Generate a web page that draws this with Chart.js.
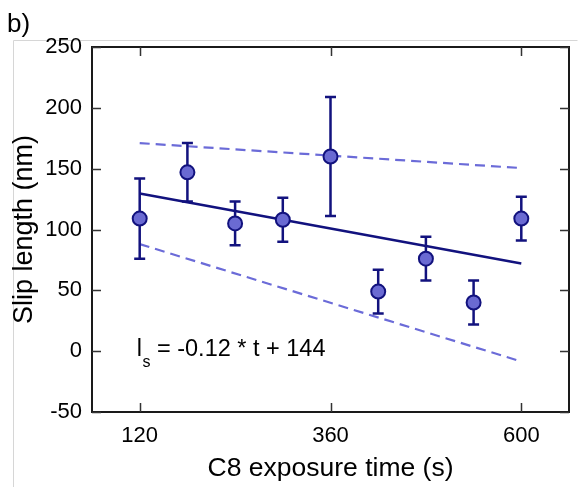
<!DOCTYPE html>
<html><head><meta charset="utf-8">
<script src="https://cdn.jsdelivr.net/npm/chart.js@4"></script>
<style>html,body{margin:0;padding:0;background:#fff;overflow:hidden}
canvas{display:block}
</style></head><body>
<canvas id="c" width="578" height="487"></canvas>
<script>
const times = [120, 180, 240, 300, 360, 420, 480, 540, 600];
const slipLength = [109, 147, 105, 108, 160, 49, 76, 40, 109];
const slipError = [33, 24, 18, 18, 49, 18, 18, 18, 18];
const fitX = [120, 600];
const fitY = [129.6, 72];
const upperY = [171, 150.5];
const lowerY = [88, -8.5];
const xTicks = [120, 360, 600];
const yTicks = [-50, 0, 50, 100, 150, 200, 250];
const panelLabel = 'b)';
const eqMain = 'l';
const eqSub = 's';
const eqRest = ' = -0.12 * t + 144';

const FONT = 'Liberation Sans, Arial, sans-serif';
const NAVY = '#12127e';
const FILL = '#6a6ad2';
const DASH = '#6b6bd8';

const decor = {
  id: 'decor',
  beforeDraw(chart) {
    const ctx = chart.ctx;
    ctx.save();
    ctx.fillStyle = '#fff';
    ctx.fillRect(0, 0, chart.width, chart.height);
    ctx.strokeStyle = '#d6d6d6';
    ctx.lineWidth = 1;
    ctx.beginPath();
    ctx.moveTo(13.5, chart.height);
    ctx.lineTo(13.5, 40.5);
    ctx.lineTo(577.5, 40.5);
    ctx.stroke();
    ctx.fillStyle = '#000';
    ctx.font = '26px ' + FONT;
    ctx.textBaseline = 'alphabetic';
    ctx.fillText(panelLabel, 7, 32);
    ctx.restore();
  },
  beforeDatasetDraw(chart, args) {
    if (args.index !== 0) return;
    const ctx = chart.ctx, xs = chart.scales.x, ys = chart.scales.y;
    ctx.save();
    ctx.strokeStyle = NAVY;
    ctx.lineWidth = 2.5;
    for (let i = 0; i < times.length; i++) {
      const x = xs.getPixelForValue(times[i]);
      const yt = ys.getPixelForValue(slipLength[i] + slipError[i]);
      const yb = ys.getPixelForValue(slipLength[i] - slipError[i]);
      ctx.beginPath();
      ctx.moveTo(x, yt); ctx.lineTo(x, yb);
      ctx.moveTo(x - 5.5, yt); ctx.lineTo(x + 5.5, yt);
      ctx.moveTo(x - 5.5, yb); ctx.lineTo(x + 5.5, yb);
      ctx.stroke();
    }
    ctx.restore();
  },
  afterDatasetsDraw(chart) {
    const ctx = chart.ctx, xs = chart.scales.x, ys = chart.scales.y;
    const a = chart.chartArea;
    ctx.save();
    ctx.strokeStyle = '#1a1a1a';
    ctx.lineWidth = 2;
    ctx.strokeRect(a.left, a.top, a.right - a.left, a.bottom - a.top);
    ctx.lineWidth = 1.5;
    ctx.strokeStyle = '#333';
    const tl = 9;
    ctx.beginPath();
    xTicks.forEach(v => {
      const x = Math.round(xs.getPixelForValue(v)) + 0.5;
      ctx.moveTo(x, a.bottom); ctx.lineTo(x, a.bottom - tl);
      ctx.moveTo(x, a.top); ctx.lineTo(x, a.top + tl);
    });
    yTicks.forEach(v => {
      const y = Math.round(ys.getPixelForValue(v)) + 0.5;
      ctx.moveTo(a.left, y); ctx.lineTo(a.left + tl, y);
      ctx.moveTo(a.right, y); ctx.lineTo(a.right - tl, y);
    });
    ctx.stroke();
    // equation annotation
    const x0 = xs.getPixelForValue(120) - 3;
    const yb = ys.getPixelForValue(0) + 5;
    ctx.fillStyle = '#000';
    ctx.textBaseline = 'alphabetic';
    ctx.font = '23.5px ' + FONT;
    ctx.fillText(eqMain, x0, yb);
    let w = ctx.measureText(eqMain).width;
    ctx.font = '16px ' + FONT;
    ctx.fillText(eqSub, x0 + w + 0.5, yb + 11);
    w += 0.5 + ctx.measureText(eqSub).width;
    ctx.font = '23.5px ' + FONT;
    ctx.fillText(eqRest, x0 + w, yb);
    ctx.restore();
  }
};

new Chart(document.getElementById('c'), {
  type: 'scatter',
  data: {
    datasets: [
      {
        type: 'scatter',
        data: times.map((t, i) => ({ x: t, y: slipLength[i] })),
        pointRadius: 7, pointHoverRadius: 7,
        borderWidth: 2, backgroundColor: FILL, borderColor: NAVY,
        order: 0
      },
      {
        type: 'line',
        data: fitX.map((t, i) => ({ x: t, y: fitY[i] })),
        borderColor: NAVY, borderWidth: 2.5, pointRadius: 0, fill: false,
        order: 1
      },
      {
        type: 'line',
        data: fitX.map((t, i) => ({ x: t, y: upperY[i] })),
        borderColor: DASH, borderWidth: 2.2, borderDash: [10, 6], pointRadius: 0, fill: false,
        order: 2
      },
      {
        type: 'line',
        data: fitX.map((t, i) => ({ x: t, y: lowerY[i] })),
        borderColor: DASH, borderWidth: 2.2, borderDash: [10, 6], pointRadius: 0, fill: false,
        order: 3
      }
    ]
  },
  options: {
    responsive: false,
    animation: false,
    devicePixelRatio: 1,
    layout: { padding: { top: 47, right: 2, left: 0, bottom: 0 } },
    plugins: { legend: { display: false }, tooltip: { enabled: false } },
    scales: {
      x: {
        type: 'linear', min: 60, max: 660,
        afterBuildTicks(s) { s.ticks = xTicks.map(v => ({ value: v })); },
        afterFit(s) { s.height = 75; },
        grid: { display: false, drawTicks: false },
        border: { display: false },
        ticks: { color: '#000', font: { family: FONT, size: 22 }, padding: 11, maxRotation: 0, autoSkip: false },
        title: { display: true, text: 'C8 exposure time (s)', color: '#000', font: { family: FONT, size: 26.5 }, padding: { top: 0, bottom: 2 } }
      },
      y: {
        type: 'linear', min: -50, max: 250,
        afterBuildTicks(s) { s.ticks = yTicks.map(v => ({ value: v })); },
        afterFit(s) { s.width = 92; },
        grid: { display: false, drawTicks: false },
        border: { display: false },
        ticks: { color: '#000', font: { family: FONT, size: 22 }, padding: 10, autoSkip: false },
        title: { display: true, text: 'Slip length (nm)', color: '#000', font: { family: FONT, size: 27 }, padding: { top: 8, bottom: 0 } }
      }
    }
  },
  plugins: [decor]
});
</script>
</body></html>
